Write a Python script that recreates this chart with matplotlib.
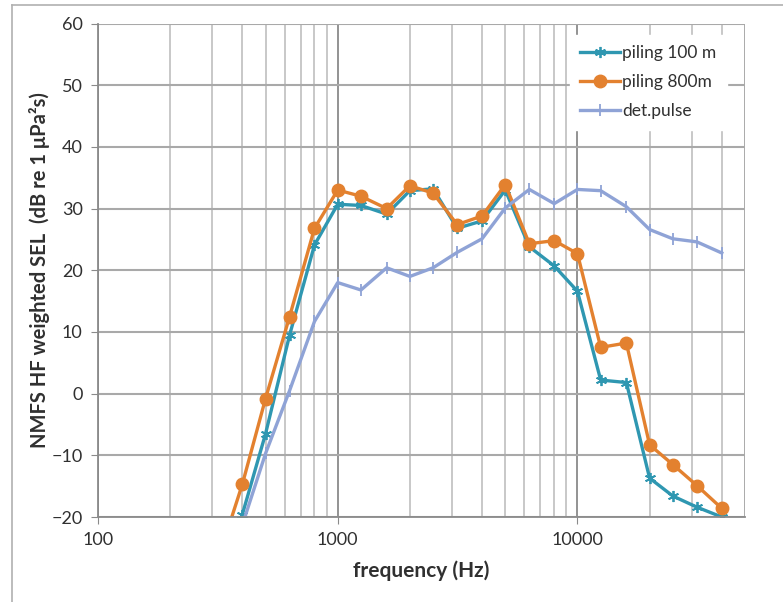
import numpy as np
import matplotlib
matplotlib.use("Agg")
import matplotlib.pyplot as plt
from matplotlib.ticker import LogLocator, FixedLocator, NullFormatter, FuncFormatter
from matplotlib.lines import Line2D

plt.rcParams["font.family"] = ["Lato", "DejaVu Sans"]

# third-octave band centre frequencies (Hz)
freq = [315, 400, 500, 630, 800, 1000, 1250, 1600, 2000, 2500, 3150,
        4000, 5000, 6300, 8000, 10000, 12500, 16000, 20000, 25000, 31500, 40000]

# weighted SEL per band (dB re 1 uPa^2 s)
piling_100m = [-33.0, -19.6, -6.5, 9.5, 24.1, 30.7, 30.5, 29.1, 32.9, 33.2, 26.8,
               28.0, 33.0, 23.8, 20.7, 16.6, 2.2, 1.8, -13.7, -16.6, -18.4, -20.0]
piling_800m = [-27.2, -14.7, -0.8, 12.5, 26.8, 33.0, 32.0, 30.0, 33.7, 32.5, 27.4,
               28.8, 33.9, 24.3, 24.8, 22.7, 7.5, 8.2, -8.3, -11.5, -14.9, -18.6]
det_pulse = [-34.0, -21.3, -9.7, 0.5, 11.7, 18.0, 16.8, 20.4, 19.0, 20.4, 22.9,
             25.1, 30.1, 33.1, 30.8, 33.1, 32.9, 30.3, 26.6, 25.1, 24.6, 22.8]

x_ticks = [100, 1000, 10000]
y_ticks = np.arange(-20, 61, 10)

teal = "#2f97b1"
orange = "#e3812f"
lilac = "#8fa3d6"
grid_c = "#a9a9a9"
text_c = "#303030"

fig = plt.figure(figsize=(7.83, 6.02), dpi=100)
fig.patch.set_facecolor("white")
ax = fig.add_axes([98 / 783, 1 - 517 / 602, (745 - 98) / 783, (517 - 23.5) / 602])

# chart-area frame (left and top edges only visible)
fig.add_artist(Line2D([12 / 783, 12 / 783], [0, 1 - 5 / 602], color="#b0b0b0", lw=1.2))
fig.add_artist(Line2D([12 / 783, 1], [1 - 5 / 602, 1 - 5 / 602], color="#b0b0b0", lw=1.2))

ax.set_xscale("log")
ax.set_xlim(100, 50000)
ax.set_ylim(-20, 60)

ax.xaxis.set_major_locator(FixedLocator(x_ticks))
ax.xaxis.set_major_formatter(FuncFormatter(lambda v, p: f"{int(v)}"))
ax.xaxis.set_minor_locator(LogLocator(base=10, subs=np.arange(2, 10)))
ax.xaxis.set_minor_formatter(NullFormatter())
ax.set_yticks(y_ticks)

ax.grid(True, which="major", axis="y", color=grid_c, lw=1.5)
ax.grid(True, which="major", axis="x", color="#8a8a8a", lw=1.3)
ax.grid(True, which="minor", axis="x", color="#c4c4c4", lw=1.3)
ax.axvline(50000, color=grid_c, lw=1.3)
ax.set_axisbelow(True)

for side in ("top", "right"):
    ax.spines[side].set_visible(False)
for side in ("left", "bottom"):
    ax.spines[side].set_color("#8a8a8a")
    ax.spines[side].set_linewidth(1.3)

ax.tick_params(axis="both", which="major", direction="out", length=5, color="#8a8a8a",
               labelsize=13, labelcolor=text_c, pad=6)
ax.tick_params(axis="x", which="minor", length=0)

ax.plot(freq, piling_100m, color=teal, lw=2.4, marker=(6, 2, 0), ms=8, mew=1.3,
        label="piling 100 m", clip_on=True)
ax.plot(freq, piling_800m, color=orange, lw=2.4, marker="o", ms=9,
        label="piling 800m", clip_on=True)
ax.plot(freq, det_pulse, color=lilac, lw=2.4, marker="|", ms=8, mew=1.3,
        label="det.pulse", clip_on=True)

ax.set_xlabel("frequency (Hz)", fontsize=15, fontweight="bold", color=text_c, labelpad=9)
ax.set_ylabel("NMFS HF weighted SEL  (dB re 1 μPa²s)", fontsize=14.5, fontweight="bold",
              color=text_c, labelpad=1)

leg = ax.legend(loc="upper right", bbox_to_anchor=(0.985, 0.995), fontsize=12.5, frameon=True,
                handlelength=2.3, handletextpad=0.1, labelspacing=0.75, borderpad=0.6)
leg.get_frame().set_facecolor("white")
leg.get_frame().set_edgecolor("white")
leg.get_frame().set_alpha(1)
for t in leg.get_texts():
    t.set_color(text_c)

fig.savefig("out.png", dpi=100, facecolor="white")
